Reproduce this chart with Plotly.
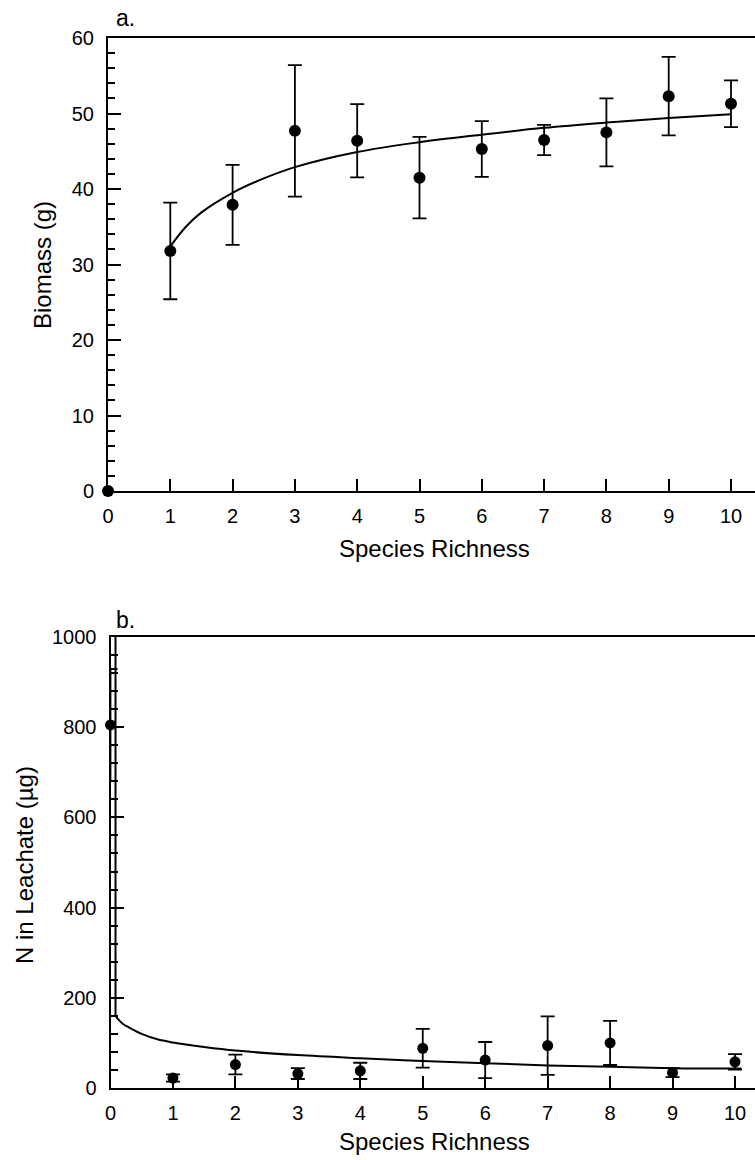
import plotly.graph_objects as go

# ---------------- data: panel a (Biomass) ----------------
richness = [1, 2, 3, 4, 5, 6, 7, 8, 9, 10]
biomass = [31.8, 37.9, 47.7, 46.4, 41.5, 45.3, 46.5, 47.5, 52.3, 51.3]
biomass_err = [6.4, 5.3, 8.7, 4.85, 5.4, 3.7, 2.0, 4.5, 5.2, 3.1]
biomass_zero_x = [0]
biomass_zero_y = [0]
fit_a_x = [1, 1.25, 1.5, 2, 2.5, 3, 4, 5, 6, 7, 8, 9, 10]
fit_a_y = [32.4, 35.0, 36.9, 39.5, 41.4, 42.9, 44.9, 46.2, 47.2, 48.1, 48.8, 49.4, 49.9]

# ---------------- data: panel b (N in leachate) ----------------
richness_b = [0, 1, 2, 3, 4, 5, 6, 7, 8, 9, 10]
leach_n = [805, 22, 52, 32, 38, 88, 62, 94, 100, 34, 58]
leach_err = [124, 8, 22, 12, 18, 43, 40, 65, 49, 10, 17]
fit_b_vert_x = [0.08, 0.08]
fit_b_vert_y = [1000, 160]
fit_b_x = [0.08, 0.125, 0.2, 0.3, 0.5, 0.75, 1, 1.5, 2, 3, 4, 5, 6, 7, 8, 9, 10.1]
fit_b_y = [160, 152, 142, 134, 120, 108, 101, 91, 83, 73, 66, 60, 55, 50, 47, 44, 43]

W, H = 755, 1160
FONT = "Liberation Sans, Arial, Helvetica, sans-serif"

fig = go.Figure()

# panel a
fig.add_trace(go.Scatter(x=fit_a_x, y=fit_a_y, mode="lines", line=dict(color="black", width=2, shape="spline"),
                         xaxis="x", yaxis="y", hoverinfo="skip"))
fig.add_trace(go.Scatter(x=richness, y=biomass, mode="markers",
                         marker=dict(color="black", size=12),
                         error_y=dict(type="data", array=biomass_err, color="black", thickness=1.8, width=7),
                         xaxis="x", yaxis="y", cliponaxis=False))
fig.add_trace(go.Scatter(x=biomass_zero_x, y=biomass_zero_y, mode="markers",
                         marker=dict(color="black", size=12), xaxis="x", yaxis="y", cliponaxis=False))

# panel b
fig.add_trace(go.Scatter(x=fit_b_vert_x, y=fit_b_vert_y, mode="lines", line=dict(color="black", width=2),
                         xaxis="x2", yaxis="y2", hoverinfo="skip"))
fig.add_trace(go.Scatter(x=fit_b_x, y=fit_b_y, mode="lines", line=dict(color="black", width=2, shape="spline"),
                         xaxis="x2", yaxis="y2", hoverinfo="skip"))
fig.add_trace(go.Scatter(x=richness_b, y=leach_n, mode="markers",
                         marker=dict(color="black", size=11),
                         error_y=dict(type="data", array=leach_err, color="black", thickness=1.8, width=7),
                         xaxis="x2", yaxis="y2", cliponaxis=False))

tickfont = dict(family=FONT, size=20, color="black")

common_x = dict(showgrid=False, zeroline=False, showline=True, linecolor="black", linewidth=2,
                mirror=True, ticks="inside", ticklen=12, tickwidth=1.8, tickcolor="black",
                tickmode="array", tickvals=list(range(0, 11)), ticktext=[str(i) for i in range(0, 11)],
                tickfont=tickfont, ticklabelstandoff=6, automargin=False)
common_y = dict(showgrid=False, zeroline=False, showline=True, linecolor="black", linewidth=2,
                ticks="inside", ticklen=13, tickwidth=1.8, tickcolor="black",
                tickfont=tickfont, ticklabelstandoff=8, automargin=False)

fig.update_layout(
    width=W, height=H,
    margin=dict(l=0, r=0, t=0, b=0, pad=0, autoexpand=False),
    paper_bgcolor="white", plot_bgcolor="white",
    showlegend=False,
    font=dict(family=FONT, color="black"),
    xaxis=dict(domain=[108 / W, 1], range=[0, (W - 108) / 62.3], anchor="y", **common_x),
    yaxis=dict(domain=[1 - 491 / H, 1 - 38 / H], range=[0, 60], anchor="x",
               tickmode="array", tickvals=[0, 10, 20, 30, 40, 50, 60],
               minor=dict(dtick=2, ticks="inside", ticklen=7, tickwidth=1.6, tickcolor="black", showgrid=False),
               **common_y),
    xaxis2=dict(domain=[110.5 / W, 1], range=[0, (W - 110.5) / 62.45], anchor="y2", **common_x),
    yaxis2=dict(domain=[1 - 1088 / H, 1 - 637 / H], range=[0, 1000], anchor="x2",
                tickmode="array", tickvals=[0, 200, 400, 600, 800, 1000],
                minor=dict(dtick=40, ticks="inside", ticklen=7, tickwidth=1.6, tickcolor="black", showgrid=False),
                **common_y),
)

ann_font = dict(family=FONT, size=24, color="black")
annotations = [
    dict(text="Species Richness", x=434 / W, y=1 - 549 / H, xanchor="center", yanchor="middle", font=ann_font),
    dict(text="Species Richness", x=434 / W, y=1 - 1141 / H, xanchor="center", yanchor="middle", font=ann_font),
    dict(text="Biomass (g)", x=42 / W, y=1 - 265 / H, xanchor="center", yanchor="middle", textangle=-90, font=ann_font),
    dict(text="N in Leachate (µg)", x=24 / W, y=1 - 865 / H, xanchor="center", yanchor="middle", textangle=-90, font=ann_font),
    dict(text="a.", x=114 / W, y=1 - 18 / H, xanchor="left", yanchor="middle", font=dict(family=FONT, size=23, color="black")),
    dict(text="b.", x=114 / W, y=1 - 620 / H, xanchor="left", yanchor="middle", font=dict(family=FONT, size=23, color="black")),
]
for a in annotations:
    a.update(xref="paper", yref="paper", showarrow=False)
fig.update_layout(annotations=annotations)

fig.write_html("out.html", config={"displayModeBar": False},
               post_script="document.body.style.margin='0';document.body.style.overflow='hidden';")
